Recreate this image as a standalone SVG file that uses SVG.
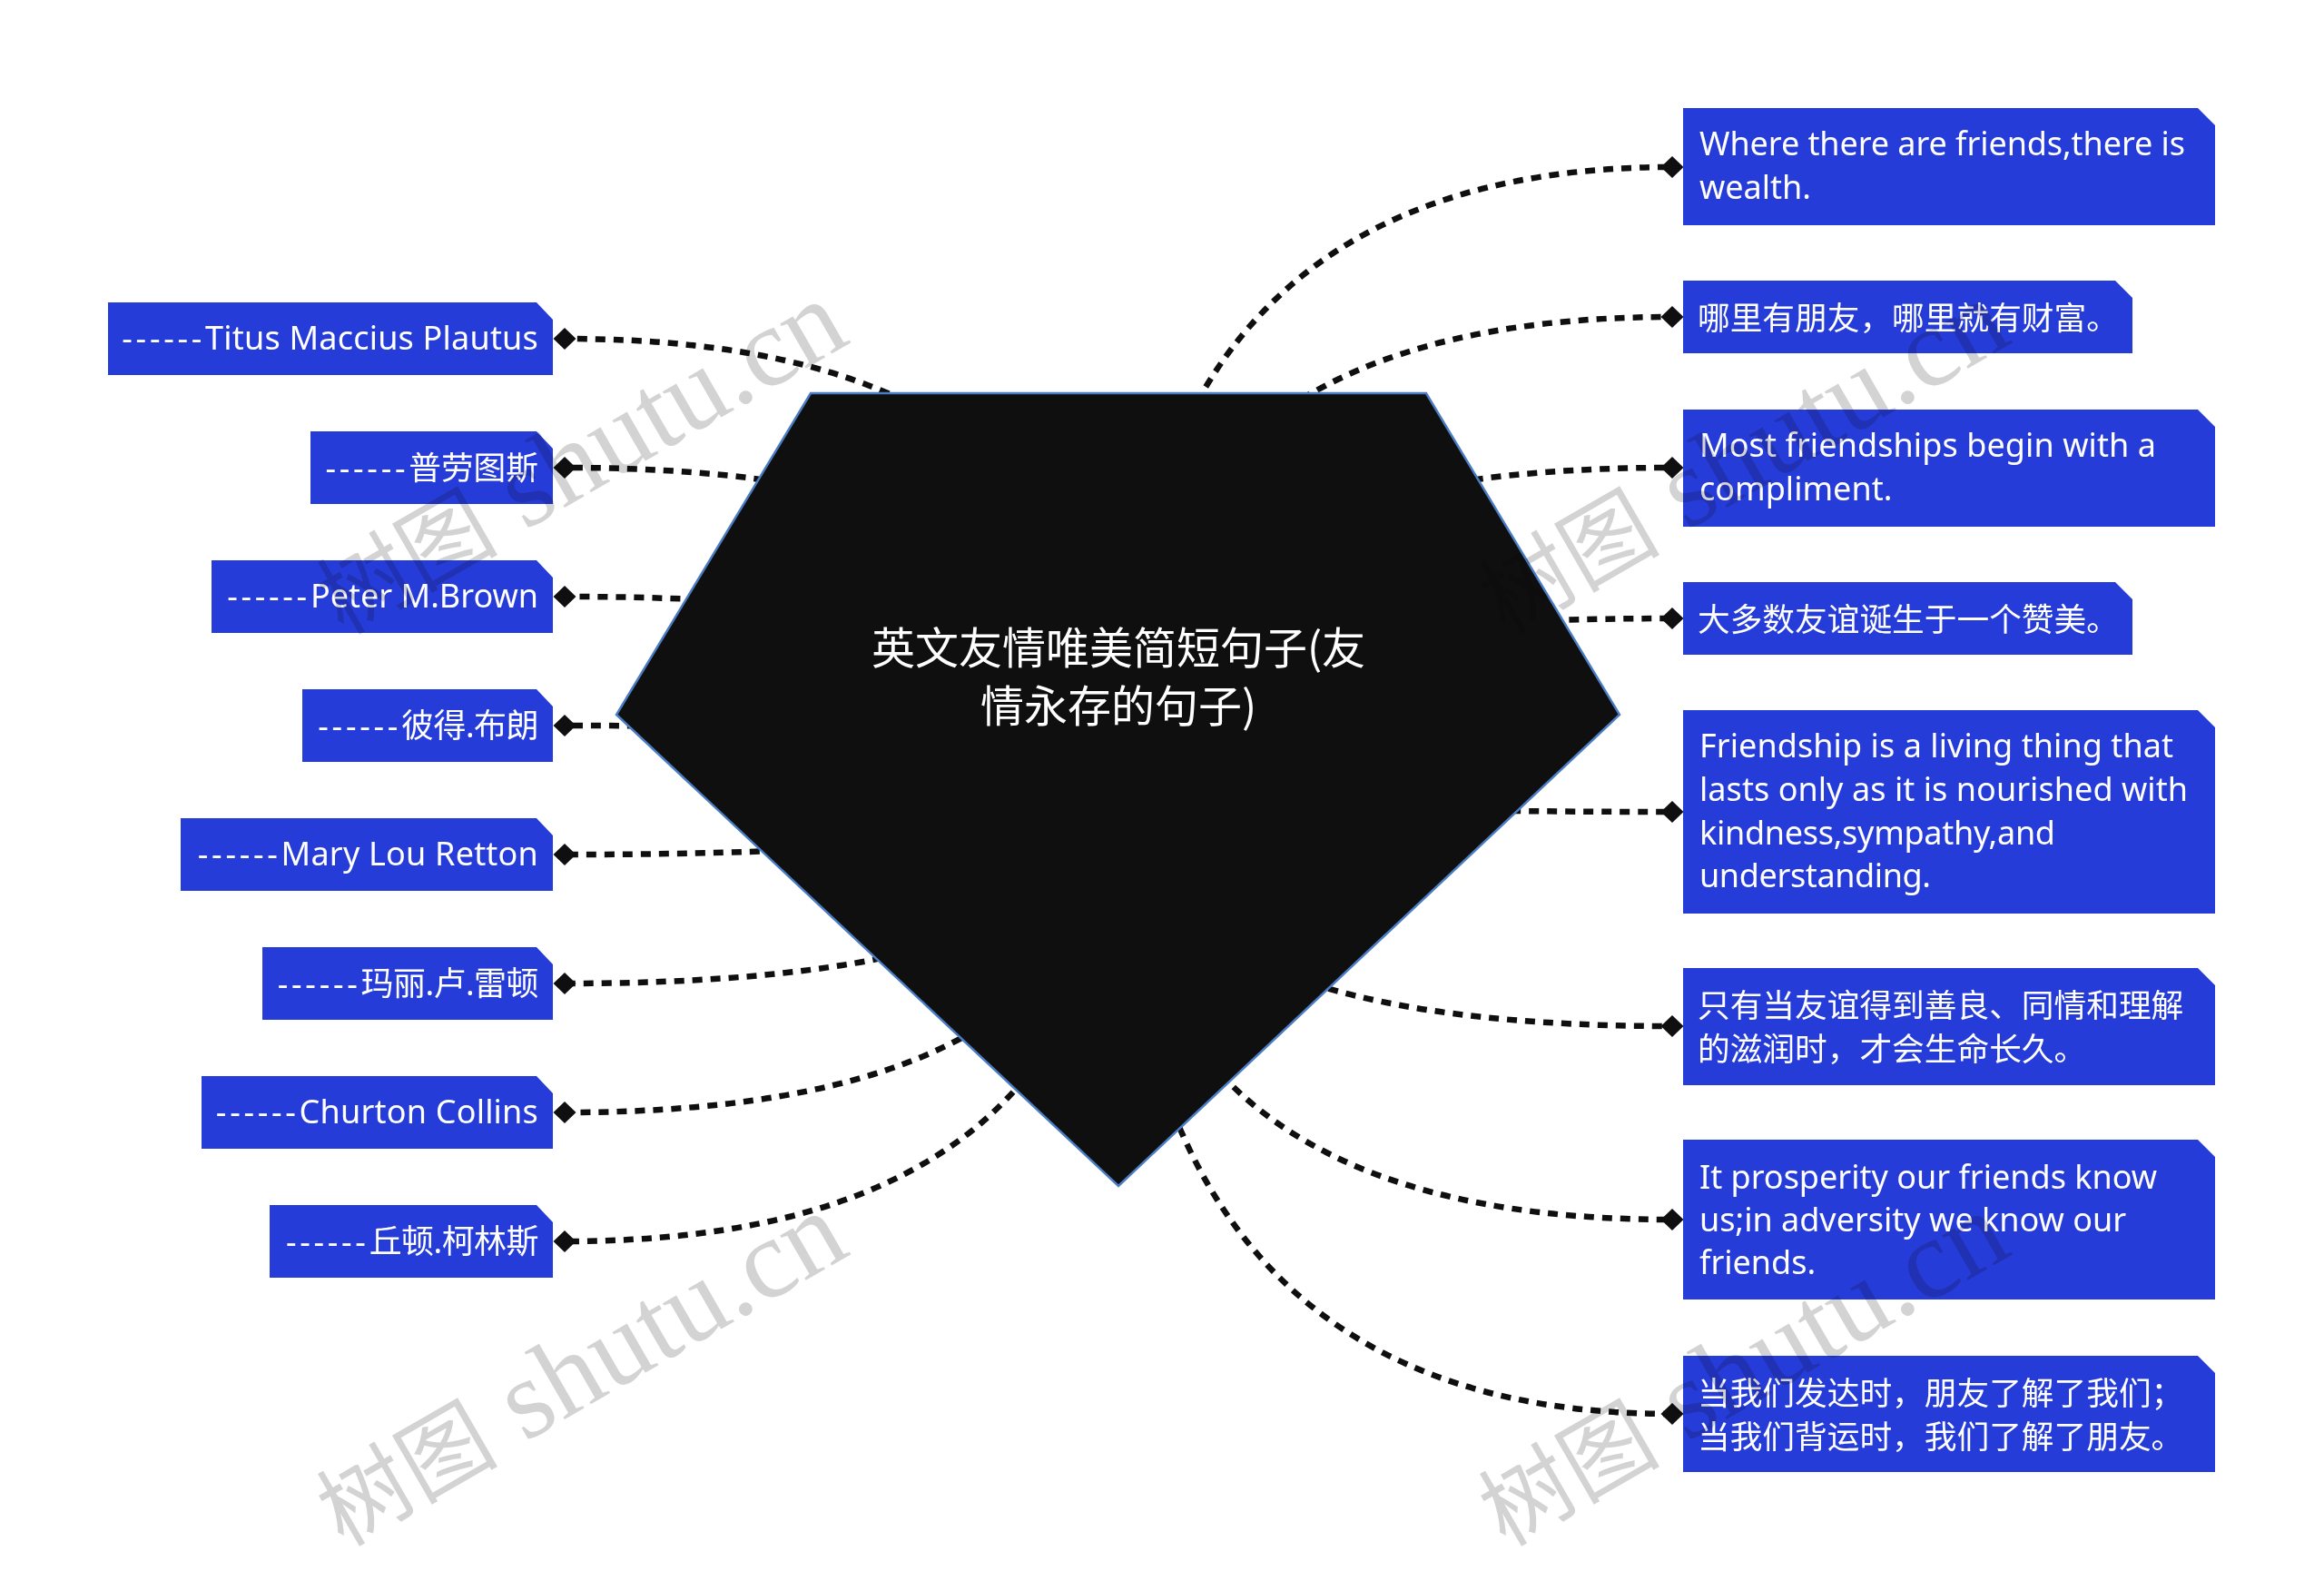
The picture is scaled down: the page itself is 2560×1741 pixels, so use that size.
<svg xmlns="http://www.w3.org/2000/svg" width="2560" height="1741" viewBox="0 0 2560 1741">
<style>
.box{fill:#263cd9}
.t{font-family:"Noto Sans","Noto Sans CJK SC",sans-serif;font-size:36px;fill:#fff}
.c{font-size:35.7px}
.r{text-anchor:end}
.dash{letter-spacing:3.7px}
.wide{letter-spacing:.2px}
.tight{letter-spacing:-.55px}
.title{font-family:"Noto Sans CJK SC","Noto Sans",sans-serif;font-size:48px;fill:#fff;text-anchor:middle}
.edge{fill:none;stroke:#0f0f0f;stroke-width:6.5;stroke-dasharray:11 9;marker-end:url(#d)}
.wm{font-family:"Liberation Serif","Noto Sans CJK SC",serif;font-size:124px;fill:#d3d3d3;mix-blend-mode:multiply}
.wmc{font-size:100px}
</style>
<defs>
<marker id="d" markerUnits="userSpaceOnUse" markerWidth="26" markerHeight="26" refX="13" refY="13" orient="0"><path d="M.5 13L13 1L25.5 13L13 25Z" fill="#0f0f0f"/></marker>
</defs>
<rect width="2560" height="1741" fill="#fff"/>
<g id="connectors">
<path class="edge" d="M1232 850Q1232 184 1842 184"/>
<path class="edge" d="M1232 850Q1232 349 1842 349"/>
<path class="edge" d="M1232 850Q1232 515 1842 515"/>
<path class="edge" d="M1232 850Q1232 681 1842 681"/>
<path class="edge" d="M1232 850Q1232 894 1842 894"/>
<path class="edge" d="M1232 850Q1232 1130 1842 1130"/>
<path class="edge" d="M1232 850Q1232 1343 1842 1343"/>
<path class="edge" d="M1232 850Q1232 1557 1842 1557"/>
<path class="edge" d="M1232 850Q1232 373 622 373"/>
<path class="edge" d="M1232 850Q1232 515 622 515"/>
<path class="edge" d="M1232 850Q1232 657 622 657"/>
<path class="edge" d="M1232 850Q1232 799 622 799"/>
<path class="edge" d="M1232 850Q1232 941 622 941"/>
<path class="edge" d="M1232 850Q1232 1083 622 1083"/>
<path class="edge" d="M1232 850Q1232 1225 622 1225"/>
<path class="edge" d="M1232 850Q1232 1367 622 1367"/>
</g>
<g id="root">
<path d="M893 433H1571L1784 787L1232 1306L679 787Z" fill="#0f0f0f" stroke="#4a7dc4" stroke-width="2.5"/>
<text class="title" x="1232" y="731">英文友情唯美简短句子(友</text>
<text class="title" x="1232" y="795">情永存的句子)</text>
</g>
<g id="r1"><path class="box" d="M1854 119H2421L2440 138V248H1854Z"/><text class="t" x="1872" y="171" textLength="535">Where there are friends,there is</text><text class="t" x="1872" y="219">wealth.</text></g>
<g id="r2"><path class="box" d="M1854 309H2330L2349 328V389H1854Z"/><text class="t c" x="1870" y="363">哪里有朋友，哪里就有财富。</text></g>
<g id="r3"><path class="box" d="M1854 451H2421L2440 470V580H1854Z"/><text class="t" x="1872" y="503" textLength="503">Most friendships begin with a</text><text class="t" x="1872" y="551">compliment.</text></g>
<g id="r4"><path class="box" d="M1854 641H2330L2349 660V721H1854Z"/><text class="t c" x="1870" y="695">大多数友谊诞生于一个赞美。</text></g>
<g id="r5"><path class="box" d="M1854 782H2421L2440 801V1006H1854Z"/><text class="t" x="1872" y="834" textLength="522">Friendship is a living thing that</text><text class="t" x="1872" y="882" textLength="538">lasts only as it is nourished with</text><text class="t" x="1872" y="930" textLength="392">kindness,sympathy,and</text><text class="t" x="1872" y="977" textLength="255">understanding.</text></g>
<g id="r6"><path class="box" d="M1854 1066H2421L2440 1085V1195H1854Z"/><text class="t c" x="1870" y="1120">只有当友谊得到善良、同情和理解</text><text class="t c" x="1870" y="1168">的滋润时，才会生命长久。</text></g>
<g id="r7"><path class="box" d="M1854 1255H2421L2440 1274V1431H1854Z"/><text class="t" x="1872" y="1309">It prosperity our friends know</text><text class="t" x="1872" y="1356">us;in adversity we know our</text><text class="t" x="1872" y="1403">friends.</text></g>
<g id="r8"><path class="box" d="M1854 1493H2421L2440 1512V1621H1854Z"/><text class="t c" x="1870" y="1547">当我们发达时，朋友了解了我们；</text><text class="t c" x="1870" y="1595">当我们背运时，我们了解了朋友。</text></g>
<g id="l1"><path class="box" d="M119 333H591L609 352V413H119Z"/><text class="t r" x="593" y="385"><tspan class="dash">------</tspan><tspan class="wide">Titus Maccius Plautus</tspan></text></g>
<g id="l2"><path class="box" d="M342 475H591L609 494V555H342Z"/><text class="t r" x="593" y="528"><tspan class="dash">------</tspan><tspan class="c">普劳图斯</tspan></text></g>
<g id="l3"><path class="box" d="M233 617H591L609 636V697H233Z"/><text class="t r" x="593" y="669"><tspan class="dash">------</tspan>Peter M.Brown</text></g>
<g id="l4"><path class="box" d="M333 759H591L609 778V839H333Z"/><text class="t r" x="593" y="812"><tspan class="dash">------</tspan><tspan class="tight">彼得.布朗</tspan></text></g>
<g id="l5"><path class="box" d="M199 901H591L609 920V981H199Z"/><text class="t r" x="593" y="953"><tspan class="dash">------</tspan><tspan class="wide">Mary Lou Retton</tspan></text></g>
<g id="l6"><path class="box" d="M289 1043H591L609 1062V1123H289Z"/><text class="t r" x="593" y="1096"><tspan class="dash">------</tspan><tspan class="tight">玛丽.卢.雷顿</tspan></text></g>
<g id="l7"><path class="box" d="M222 1185H591L609 1204V1265H222Z"/><text class="t r" x="593" y="1237"><tspan class="dash">------</tspan><tspan class="wide">Churton Collins</tspan></text></g>
<g id="l8"><path class="box" d="M297 1327H591L609 1346V1407H297Z"/><text class="t r" x="593" y="1380"><tspan class="dash">------</tspan><tspan class="tight">丘顿.柯林斯</tspan></text></g>
<g id="watermarks">
<text class="wm" transform="translate(378 1704) rotate(-30)"><tspan class="wmc">树图</tspan> shutu.cn</text>
<text class="wm" transform="translate(378 700) rotate(-30)"><tspan class="wmc">树图</tspan> shutu.cn</text>
<text class="wm" transform="translate(1658 1704) rotate(-30)"><tspan class="wmc">树图</tspan> shutu.cn</text>
<text class="wm" transform="translate(1658 700) rotate(-30)"><tspan class="wmc">树图</tspan> shutu.cn</text>
</g>
</svg>
